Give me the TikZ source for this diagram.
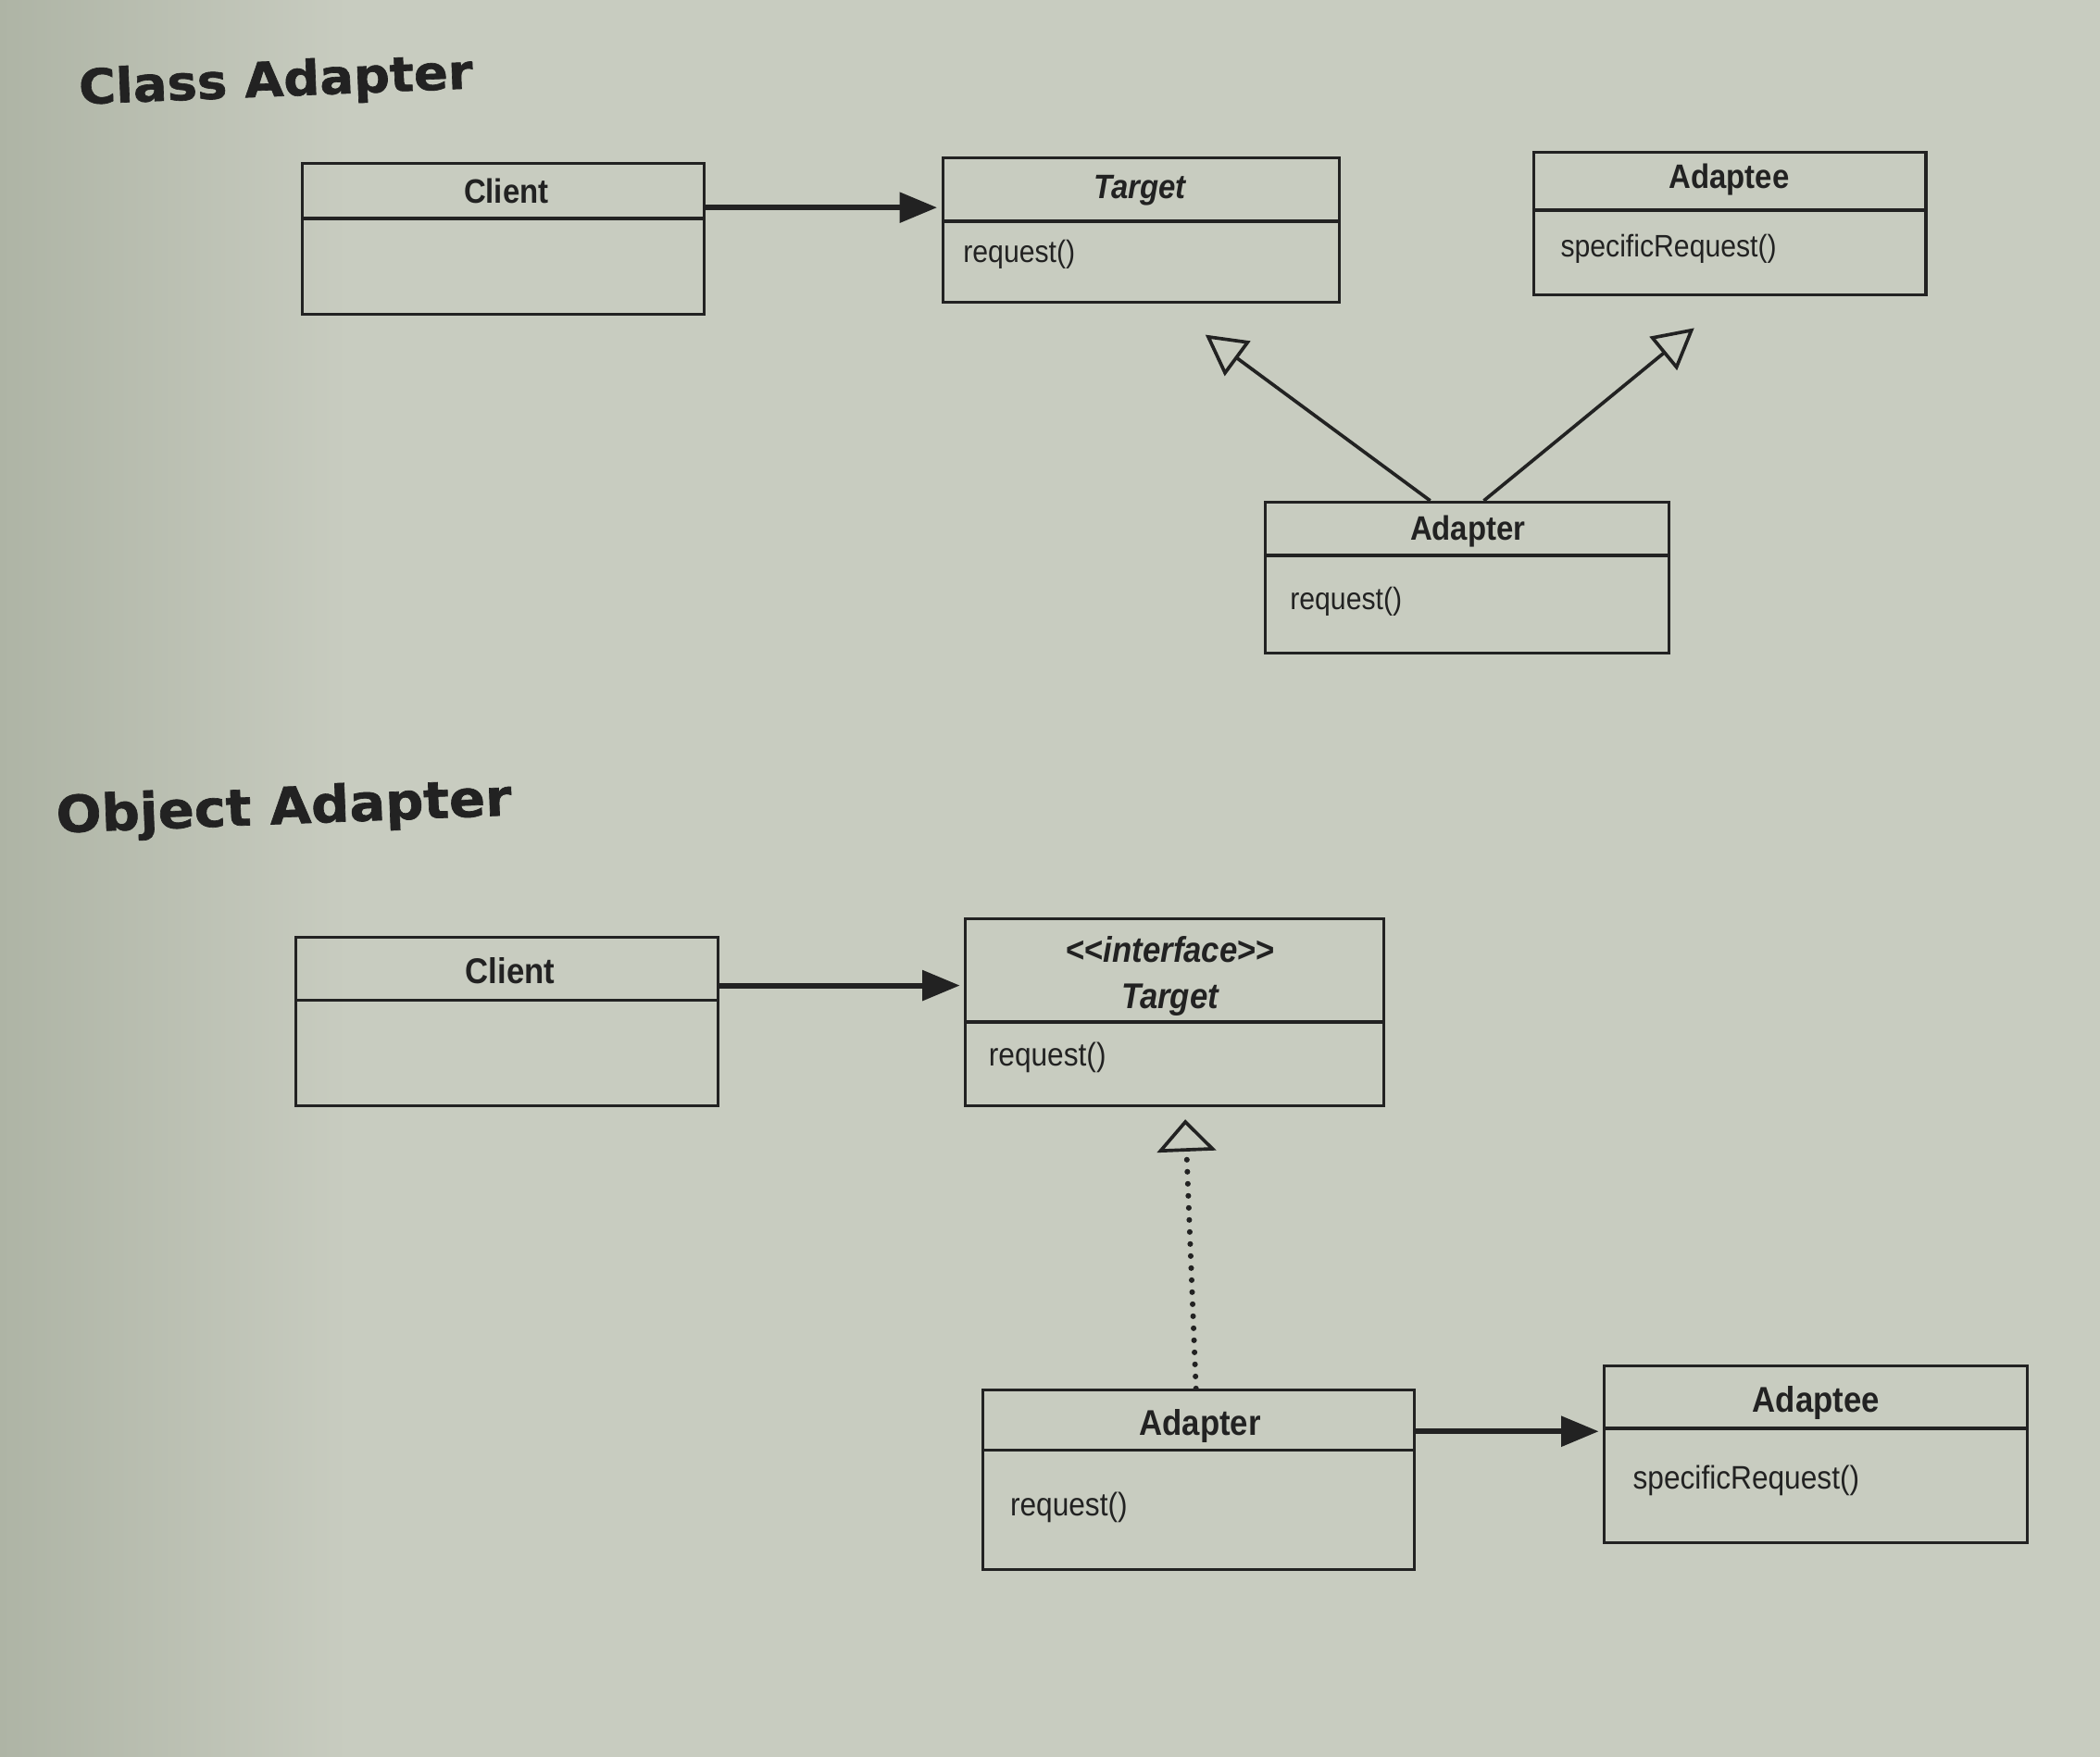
\documentclass[tikz,border=0pt]{standalone}
\usepackage{fontspec}
\setmainfont{Liberation Sans}[FakeStretch=0.9]
\newfontfamily\titlefont{DejaVu Sans}[FakeStretch=1.05,FakeBold=1.2]
\usetikzlibrary{arrows.meta,calc}
\definecolor{paper}{HTML}{C8CCC0}
\definecolor{paperdark}{HTML}{AEB4A5}
\definecolor{ink}{HTML}{222222}
\begin{document}
\begin{tikzpicture}[x=0.25mm,y=-0.25mm,
  box/.style={draw=ink,line width=1.5pt,rectangle,inner sep=0pt},
  divider/.style={draw=ink,line width=1.9pt},
  hdA/.style={font=\fontsize{18}{21}\selectfont\bfseries,text=ink,inner sep=0pt},
  bdA/.style={font=\fontsize{16.5}{19}\selectfont,text=ink,inner sep=0pt,anchor=west},
  hdB/.style={font=\fontsize{19}{24}\selectfont\bfseries,text=ink,inner sep=0pt,align=center},
  bdB/.style={font=\fontsize{17.3}{20}\selectfont,text=ink,inner sep=0pt,anchor=west},
  titletext/.style={text=ink,inner sep=0pt},
  assoc/.style={draw=ink,line width=3pt,-{Triangle[length=7mm,width=5.5mm]},shorten >=0.8mm},
  inherit/.style={draw=ink,line width=1.8pt,-{Triangle[open,length=7.5mm,width=8mm]}},
  realize/.style={draw=ink,line width=3pt,line cap=round,dash pattern=on 0pt off 6.4pt,
     -{Triangle[open,length=6mm,width=11mm,line width=1.8pt]}}
]
\useasboundingbox (0,0) rectangle (1568,1312);
\fill[paper] (0,0) rectangle (1568,1312);
\shade[left color=paperdark,right color=paper] (0,0) rectangle (260,1312);

% ---------------- Class Adapter ----------------
\node[titletext,font=\titlefont\bfseries\fontsize{25.5}{30}\selectfont,rotate=2.3] (title1) at (206,62) {Class Adapter};

\node[box,minimum width=75mm,minimum height=28.25mm] (C1) at (376,178.5) {};
\draw[divider] (C1.west |- 0,163) -- (C1.east |- 0,163);
\node[hdA] (C1h) at (378,143) {Client};

\node[box,minimum width=74mm,minimum height=27mm] (T1) at (852,172) {};
\draw[divider] (T1.west |- 0,165) -- (T1.east |- 0,165);
\node[hdA] (T1h) at (851,142) {\itshape Target};
\node[bdA] (T1b) at (719,190) {request()};

\node[box,minimum width=73.25mm,minimum height=26.5mm] (A1) at (1291.5,167) {};
\draw[divider] (A1.west |- 0,157) -- (A1.east |- 0,157);
\node[hdA] (A1h) at (1291,134) {Adaptee};
\node[bdA] (A1b) at (1165,186) {specificRequest()};

\node[box,minimum width=75.25mm,minimum height=28.25mm] (Ad1) at (1095.5,431.5) {};
\draw[divider] (Ad1.west |- 0,415) -- (Ad1.east |- 0,415);
\node[hdA] (Ad1h) at (1096,397) {Adapter};
\node[bdA] (Ad1b) at (963,449) {request()};

\coordinate (inhT) at (900,250);
\coordinate (inhA) at (1265,245);
\draw[assoc] (C1.east |- 0,155) -- (T1.west |- 0,155);
\draw[inherit] ([xshift=-6.9mm]Ad1.north) -- (inhT);
\draw[inherit] ([xshift=3.1mm]Ad1.north) -- (inhA);

% ---------------- Object Adapter ----------------
\node[titletext,font=\titlefont\bfseries\fontsize{27}{32}\selectfont,rotate=2.2] (title2) at (212,605) {Object Adapter};

\node[box,minimum width=78.75mm,minimum height=31.5mm] (C2) at (378.5,763) {};
\draw[divider] (C2.west |- 0,747) -- (C2.east |- 0,747);
\node[hdB] (C2h) at (381,725) {Client};

\node[box,minimum width=78mm,minimum height=35mm] (T2) at (877,756) {};
\draw[divider] (T2.west |- 0,763) -- (T2.east |- 0,763);
\node[hdB,font=\fontsize{19}{25}\selectfont\bfseries] (T2h) at (874,729) {<{}<\textit{interface}>{}>\\\textit{Target}};
\node[bdB] (T2b) at (738,790) {request()};

\node[box,minimum width=80.5mm,minimum height=33.5mm] (Ad2) at (895,1105) {};
\draw[divider] (Ad2.west |- 0,1083) -- (Ad2.east |- 0,1083);
\node[hdB] (Ad2h) at (896,1065) {Adapter};
\node[bdB] (Ad2b) at (754,1126) {request()};

\node[box,minimum width=79mm,minimum height=33mm] (A2) at (1356,1086) {};
\draw[divider] (A2.west |- 0,1067) -- (A2.east |- 0,1067);
\node[hdB] (A2h) at (1356,1048) {Adaptee};
\node[bdB] (A2b) at (1219,1106) {specificRequest()};

\coordinate (realT) at (885,836);
\draw[assoc] (C2.east |- 0,736) -- (T2.west |- 0,736);
\draw[realize] ([xshift=-0.5mm]Ad2.north) -- (realT);
\draw[assoc] (Ad2.east |- 0,1069) -- (A2.west |- 0,1069);
\end{tikzpicture}
\end{document}
